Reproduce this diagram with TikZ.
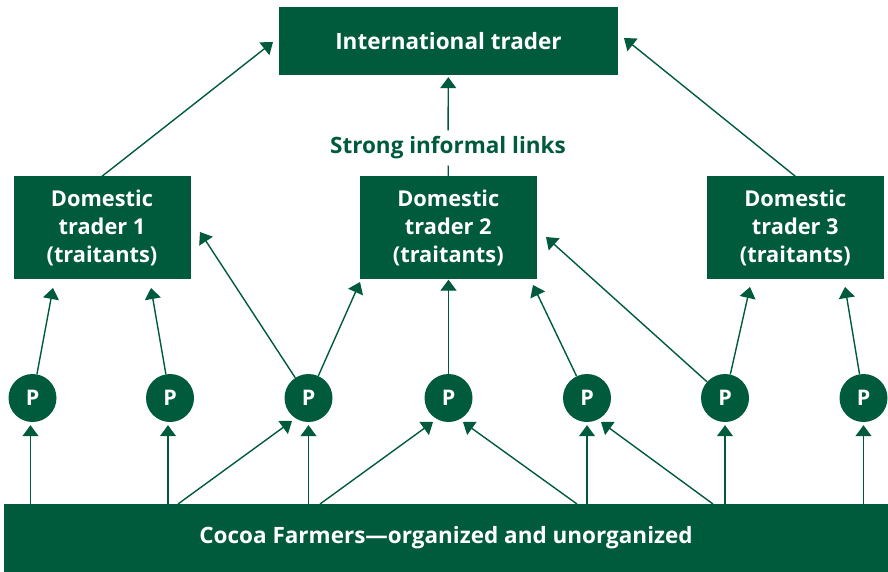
\documentclass[tikz,border=0pt]{standalone}
\usepackage{fontspec}
\setmainfont{Open Sans}
\usetikzlibrary{arrows.meta,calc}
\definecolor{cgreen}{RGB}{0,90,60}
\begin{document}
\begin{tikzpicture}[x=1pt,y=-1pt,
  box/.style={fill=cgreen,draw=none,text=white,font=\bfseries\fontsize{21.8}{28}\selectfont,align=center,inner sep=0pt},
  bigtext/.style={font=\bfseries\fontsize{22.5}{28}\selectfont},
  pnode/.style={circle,fill=cgreen,text=white,minimum size=48pt,inner sep=0pt,font=\bfseries\fontsize{21.5}{24}\selectfont},
  arr/.style={draw=cgreen,line width=1.4pt,-{Triangle[length=11pt,width=16pt]}},
  ln/.style={draw=cgreen,line width=1.4pt}]
\useasboundingbox (0,0) rectangle (888,572);
% boxes
\node[box,bigtext,minimum width=339pt,minimum height=68pt] (intl) at (448.5,41) {International trader};
\node[box,minimum width=177pt,minimum height=102pt] (dt1) at (102,227.5) {Domestic\\trader 1\\(traitants)};
\node[box,minimum width=177pt,minimum height=102pt] (dt2) at (448.3,227.5) {Domestic\\trader 2\\(traitants)};
\node[box,minimum width=177pt,minimum height=102pt] (dt3) at (795.3,227.5) {Domestic\\trader 3\\(traitants)};
\node[box,bigtext,minimum width=884pt,minimum height=68pt] (farm) at (446,538) {Cocoa Farmers—organized and unorganized};
\node[text=cgreen,bigtext,inner sep=0pt,minimum height=35pt] (lbl) at (448,148) {Strong informal links};
% producers
\node[pnode] (p1) at (32.5,398) {P};
\node[pnode] (p2) at (170,398) {P};
\node[pnode] (p3) at (308.5,398) {P};
\node[pnode] (p4) at (448.5,398) {P};
\node[pnode] (p5) at (587,398) {P};
\node[pnode] (p6) at (725,398) {P};
\node[pnode] (p7) at (863.5,398) {P};
% arrow tip coordinates
\coordinate (tI1) at (273,42);
\coordinate (tI3) at (624,38);
\coordinate (t1a) at (53,288);
\coordinate (t2a) at (151,288);
\coordinate (t3a) at (200,232);
\coordinate (t3b) at (360,282);
\coordinate (t5a) at (533,285);
\coordinate (t6a) at (546,237);
\coordinate (t6b) at (750,287);
\coordinate (t7a) at (845,287);
\coordinate (fA) at (178,504);
\coordinate (tA) at (292,421);
\coordinate (fB) at (320,504);
\coordinate (tB) at (433,422);
\coordinate (fC) at (577,504);
\coordinate (tC) at (463,422);
\coordinate (fD) at (713,504);
\coordinate (tD) at (601,422);
% top level
\draw[arr] (dt1.north) -- (tI1);
\draw[arr] (dt3.north) -- (tI3);
\draw[ln] (dt2.north) -- (lbl);
\draw[arr,shorten >=2pt] (lbl) -- (intl);
% producers to traders
\draw[arr] (p1) -- (t1a);
\draw[arr] (p2) -- (t2a);
\draw[arr] (p3) -- (t3a);
\draw[arr] (p3) -- (t3b);
\draw[arr,shorten >=1pt] (p4) -- (p4 |- dt2.south);
\draw[arr] (p5) -- (t5a);
\draw[arr] (p6) -- (t6a);
\draw[arr] (p6) -- (t6b);
\draw[arr] (p7) -- (t7a);
% farmers to producers
\draw[arr,shorten >=3pt] ([xshift=-2pt]p1 |- farm.north) -- ([xshift=-2pt]p1.south);
\draw[arr,shorten >=3pt] ([xshift=-2pt]p2 |- farm.north) -- ([xshift=-2pt]p2.south);
\draw[arr] (fA) -- (tA);
\draw[arr,shorten >=3pt] (p3 |- farm.north) -- (p3.south);
\draw[arr] (fB) -- (tB);
\draw[arr] (fC) -- (tC);
\draw[arr,shorten >=3pt] (p5 |- farm.north) -- (p5.south);
\draw[arr] (fD) -- (tD);
\draw[arr,shorten >=3pt] (p6 |- farm.north) -- (p6.south);
\draw[arr,shorten >=3pt] (p7 |- farm.north) -- (p7.south);
\end{tikzpicture}
\end{document}
